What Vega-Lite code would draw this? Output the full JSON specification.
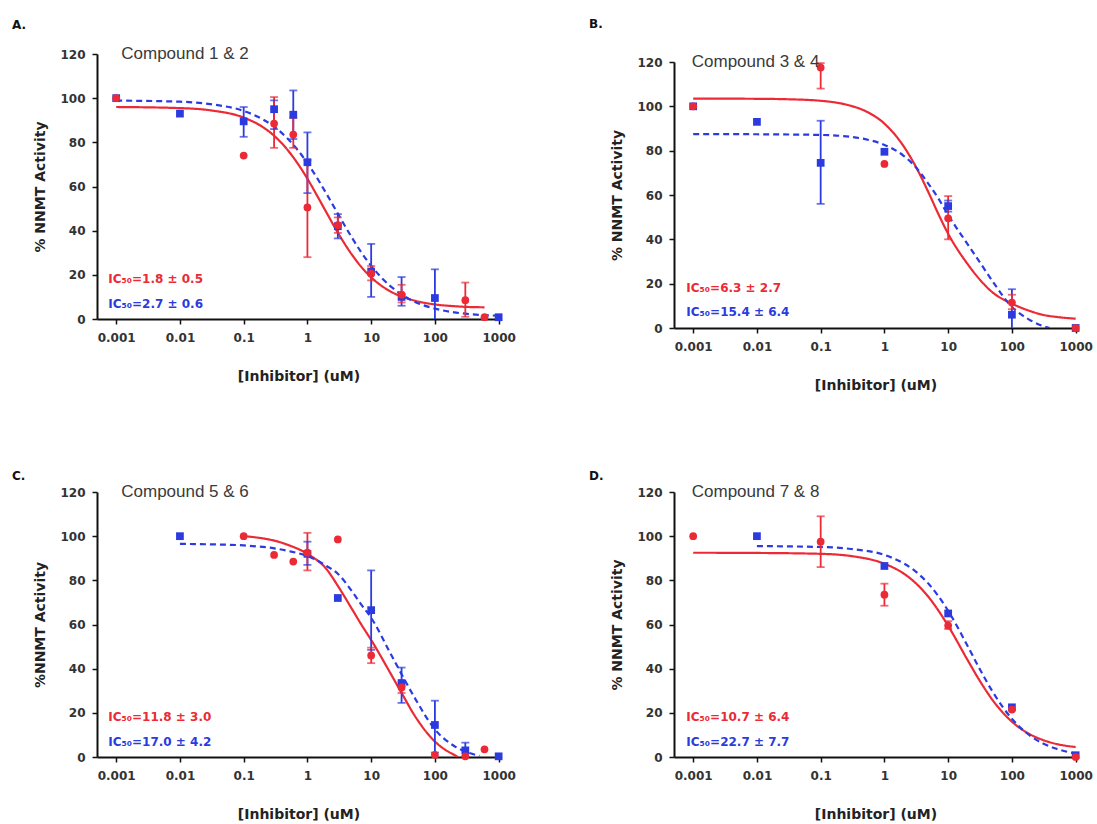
{
  "$schema": "https://vega.github.io/schema/vega-lite/v6.json",
  "background": "white",
  "padding": {"left": 12, "top": 18, "right": 2, "bottom": 1},
  "datasets": {
    "points": [
      {"panel":"A","series":"s2","x":0.001,"y":100},
      {"panel":"A","series":"s2","x":0.01,"y":93},
      {"panel":"A","series":"s2","x":0.1,"y":89.5,"lo":82.5,"hi":96},
      {"panel":"A","series":"s2","x":0.3,"y":95,"lo":86,"hi":99},
      {"panel":"A","series":"s2","x":0.6,"y":92.5,"lo":81.5,"hi":103.5},
      {"panel":"A","series":"s2","x":1,"y":71,"lo":57,"hi":84.5},
      {"panel":"A","series":"s2","x":3,"y":42,"lo":36.5,"hi":47.5},
      {"panel":"A","series":"s2","x":10,"y":21.5,"lo":10,"hi":34},
      {"panel":"A","series":"s2","x":30,"y":10,"lo":6,"hi":19},
      {"panel":"A","series":"s2","x":100,"y":9.5,"lo":-3,"hi":22.5},
      {"panel":"A","series":"s2","x":1000,"y":0.8},
      {"panel":"A","series":"s1","x":0.001,"y":100},
      {"panel":"A","series":"s1","x":0.1,"y":74},
      {"panel":"A","series":"s1","x":0.3,"y":88.5,"lo":77.5,"hi":100.5},
      {"panel":"A","series":"s1","x":0.6,"y":83.5,"lo":77.5,"hi":91},
      {"panel":"A","series":"s1","x":1,"y":50.5,"lo":28,"hi":72},
      {"panel":"A","series":"s1","x":3,"y":42.5,"lo":39,"hi":46},
      {"panel":"A","series":"s1","x":10,"y":20.5,"lo":17.5,"hi":24},
      {"panel":"A","series":"s1","x":30,"y":11,"lo":7.5,"hi":15.5},
      {"panel":"A","series":"s1","x":300,"y":8.5,"lo":1,"hi":16.5},
      {"panel":"A","series":"s1","x":600,"y":0.8},

      {"panel":"B","series":"s2","x":0.001,"y":100},
      {"panel":"B","series":"s2","x":0.01,"y":93},
      {"panel":"B","series":"s2","x":0.1,"y":74.5,"lo":56,"hi":93.5},
      {"panel":"B","series":"s2","x":1,"y":79.5},
      {"panel":"B","series":"s2","x":10,"y":55,"lo":52.5,"hi":57.5},
      {"panel":"B","series":"s2","x":100,"y":6,"lo":-5,"hi":17.5},
      {"panel":"B","series":"s2","x":1000,"y":0},
      {"panel":"B","series":"s1","x":0.001,"y":100},
      {"panel":"B","series":"s1","x":0.1,"y":117.5,"lo":108,"hi":119.5},
      {"panel":"B","series":"s1","x":1,"y":74},
      {"panel":"B","series":"s1","x":10,"y":49.5,"lo":40,"hi":59.5},
      {"panel":"B","series":"s1","x":100,"y":11.5,"lo":8.5,"hi":15},
      {"panel":"B","series":"s1","x":1000,"y":0},

      {"panel":"C","series":"s2","x":0.01,"y":100},
      {"panel":"C","series":"s2","x":1,"y":92,"lo":87,"hi":97.5},
      {"panel":"C","series":"s2","x":3,"y":72},
      {"panel":"C","series":"s2","x":10,"y":66.5,"lo":48.5,"hi":84.5},
      {"panel":"C","series":"s2","x":30,"y":33.5,"lo":24.5,"hi":40.5},
      {"panel":"C","series":"s2","x":100,"y":14.5,"lo":2,"hi":25.5},
      {"panel":"C","series":"s2","x":300,"y":3,"lo":0,"hi":6.5},
      {"panel":"C","series":"s2","x":1000,"y":0.3},
      {"panel":"C","series":"s1","x":0.1,"y":100},
      {"panel":"C","series":"s1","x":0.3,"y":91.5},
      {"panel":"C","series":"s1","x":0.6,"y":88.5},
      {"panel":"C","series":"s1","x":1,"y":92.5,"lo":84.5,"hi":101.5},
      {"panel":"C","series":"s1","x":3,"y":98.5},
      {"panel":"C","series":"s1","x":10,"y":46,"lo":42.5,"hi":49.5},
      {"panel":"C","series":"s1","x":30,"y":31.5,"lo":29,"hi":34},
      {"panel":"C","series":"s1","x":100,"y":1},
      {"panel":"C","series":"s1","x":300,"y":0.3},
      {"panel":"C","series":"s1","x":600,"y":3.5},

      {"panel":"D","series":"s2","x":0.01,"y":100},
      {"panel":"D","series":"s2","x":1,"y":86.5},
      {"panel":"D","series":"s2","x":10,"y":65},
      {"panel":"D","series":"s2","x":100,"y":22.5},
      {"panel":"D","series":"s2","x":1000,"y":0.8},
      {"panel":"D","series":"s1","x":0.001,"y":100},
      {"panel":"D","series":"s1","x":0.1,"y":97.5,"lo":86,"hi":109},
      {"panel":"D","series":"s1","x":1,"y":73.5,"lo":68.5,"hi":78.5},
      {"panel":"D","series":"s1","x":10,"y":59.5,"lo":58,"hi":61.5},
      {"panel":"D","series":"s1","x":100,"y":21.5},
      {"panel":"D","series":"s1","x":1000,"y":0}
    ],
    "curves": [
      {"panel":"A","series":"s1","x":0.001,"y":96.0},{"panel":"A","series":"s1","x":0.01,"y":95.5},{"panel":"A","series":"s1","x":0.03,"y":94.5},{"panel":"A","series":"s1","x":0.1,"y":91.2},{"panel":"A","series":"s1","x":0.2,"y":86.9},{"panel":"A","series":"s1","x":0.3,"y":83.0},{"panel":"A","series":"s1","x":0.5,"y":76.2},{"panel":"A","series":"s1","x":0.7,"y":70.5},{"panel":"A","series":"s1","x":1,"y":63.5},{"panel":"A","series":"s1","x":1.5,"y":54.6},{"panel":"A","series":"s1","x":2,"y":48.1},{"panel":"A","series":"s1","x":3,"y":39.1},{"panel":"A","series":"s1","x":5,"y":29.1},{"panel":"A","series":"s1","x":7,"y":23.6},{"panel":"A","series":"s1","x":10,"y":18.9},{"panel":"A","series":"s1","x":20,"y":12.5},{"panel":"A","series":"s1","x":30,"y":10.2},{"panel":"A","series":"s1","x":50,"y":8.2},{"panel":"A","series":"s1","x":100,"y":6.6},{"panel":"A","series":"s1","x":200,"y":5.8},{"panel":"A","series":"s1","x":300,"y":5.5},{"panel":"A","series":"s1","x":600,"y":5.3},
      {"panel":"A","series":"s2","x":0.001,"y":98.9},{"panel":"A","series":"s2","x":0.01,"y":98.4},{"panel":"A","series":"s2","x":0.03,"y":97.3},{"panel":"A","series":"s2","x":0.1,"y":94.2},{"panel":"A","series":"s2","x":0.2,"y":90.4},{"panel":"A","series":"s2","x":0.3,"y":87.1},{"panel":"A","series":"s2","x":0.5,"y":81.4},{"panel":"A","series":"s2","x":0.7,"y":76.6},{"panel":"A","series":"s2","x":1,"y":70.6},{"panel":"A","series":"s2","x":1.5,"y":62.7},{"panel":"A","series":"s2","x":2,"y":56.6},{"panel":"A","series":"s2","x":3,"y":47.7},{"panel":"A","series":"s2","x":5,"y":36.8},{"panel":"A","series":"s2","x":7,"y":30.2},{"panel":"A","series":"s2","x":10,"y":24.1},{"panel":"A","series":"s2","x":20,"y":14.9},{"panel":"A","series":"s2","x":30,"y":11.1},{"panel":"A","series":"s2","x":50,"y":7.6},{"panel":"A","series":"s2","x":100,"y":4.7},{"panel":"A","series":"s2","x":200,"y":3.0},{"panel":"A","series":"s2","x":300,"y":2.4},{"panel":"A","series":"s2","x":600,"y":1.75},{"panel":"A","series":"s2","x":1000,"y":1.5},

      {"panel":"B","series":"s1","x":0.001,"y":103.5},{"panel":"B","series":"s1","x":0.01,"y":103.4},{"panel":"B","series":"s1","x":0.03,"y":103.2},{"panel":"B","series":"s1","x":0.1,"y":102.5},{"panel":"B","series":"s1","x":0.2,"y":101.4},{"panel":"B","series":"s1","x":0.3,"y":100.2},{"panel":"B","series":"s1","x":0.5,"y":97.9},{"panel":"B","series":"s1","x":1,"y":92.2},{"panel":"B","series":"s1","x":2,"y":82.0},{"panel":"B","series":"s1","x":3,"y":73.6},{"panel":"B","series":"s1","x":5,"y":60.7},{"panel":"B","series":"s1","x":7,"y":51.5},{"panel":"B","series":"s1","x":10,"y":42.5},{"panel":"B","series":"s1","x":20,"y":29},{"panel":"B","series":"s1","x":30,"y":22.5},{"panel":"B","series":"s1","x":50,"y":16},{"panel":"B","series":"s1","x":100,"y":11},{"panel":"B","series":"s1","x":200,"y":7.5},{"panel":"B","series":"s1","x":300,"y":6},{"panel":"B","series":"s1","x":500,"y":5},{"panel":"B","series":"s1","x":1000,"y":4.2},
      {"panel":"B","series":"s2","x":0.001,"y":87.5},{"panel":"B","series":"s2","x":0.01,"y":87.4},{"panel":"B","series":"s2","x":0.1,"y":87.1},{"panel":"B","series":"s2","x":0.3,"y":86.2},{"panel":"B","series":"s2","x":0.5,"y":85.2},{"panel":"B","series":"s2","x":1,"y":82.6},{"panel":"B","series":"s2","x":2,"y":77.7},{"panel":"B","series":"s2","x":3,"y":73.0},{"panel":"B","series":"s2","x":5,"y":64.7},{"panel":"B","series":"s2","x":7,"y":58.5},{"panel":"B","series":"s2","x":10,"y":51},{"panel":"B","series":"s2","x":20,"y":38},{"panel":"B","series":"s2","x":30,"y":30.5},{"panel":"B","series":"s2","x":50,"y":21},{"panel":"B","series":"s2","x":100,"y":9.5},{"panel":"B","series":"s2","x":150,"y":5.5},{"panel":"B","series":"s2","x":200,"y":3.3},{"panel":"B","series":"s2","x":300,"y":1},{"panel":"B","series":"s2","x":390,"y":0},

      {"panel":"C","series":"s1","x":0.1,"y":100},{"panel":"C","series":"s1","x":0.2,"y":99},{"panel":"C","series":"s1","x":0.3,"y":98},{"panel":"C","series":"s1","x":0.5,"y":96},{"panel":"C","series":"s1","x":1,"y":92},{"panel":"C","series":"s1","x":2,"y":85},{"panel":"C","series":"s1","x":3,"y":77.5},{"panel":"C","series":"s1","x":5,"y":67},{"panel":"C","series":"s1","x":7,"y":60},{"panel":"C","series":"s1","x":10,"y":53},{"panel":"C","series":"s1","x":20,"y":38},{"panel":"C","series":"s1","x":30,"y":29},{"panel":"C","series":"s1","x":50,"y":18},{"panel":"C","series":"s1","x":100,"y":7},{"panel":"C","series":"s1","x":150,"y":3},{"panel":"C","series":"s1","x":200,"y":1},{"panel":"C","series":"s1","x":230,"y":0},
      {"panel":"C","series":"s2","x":0.01,"y":96.5},{"panel":"C","series":"s2","x":0.03,"y":96.3},{"panel":"C","series":"s2","x":0.1,"y":95.8},{"panel":"C","series":"s2","x":0.3,"y":94.5},{"panel":"C","series":"s2","x":0.5,"y":93.3},{"panel":"C","series":"s2","x":1,"y":91},{"panel":"C","series":"s2","x":2,"y":86.5},{"panel":"C","series":"s2","x":3,"y":83},{"panel":"C","series":"s2","x":5,"y":75},{"panel":"C","series":"s2","x":7,"y":69},{"panel":"C","series":"s2","x":10,"y":63},{"panel":"C","series":"s2","x":20,"y":47},{"panel":"C","series":"s2","x":30,"y":37.5},{"panel":"C","series":"s2","x":50,"y":26},{"panel":"C","series":"s2","x":100,"y":12.5},{"panel":"C","series":"s2","x":200,"y":5},{"panel":"C","series":"s2","x":300,"y":2.5},{"panel":"C","series":"s2","x":500,"y":0.5},

      {"panel":"D","series":"s1","x":0.001,"y":92.5},{"panel":"D","series":"s1","x":0.01,"y":92.4},{"panel":"D","series":"s1","x":0.1,"y":92.0},{"panel":"D","series":"s1","x":0.3,"y":91.0},{"panel":"D","series":"s1","x":1,"y":87.5},{"panel":"D","series":"s1","x":2,"y":83.1},{"panel":"D","series":"s1","x":3,"y":79.1},{"panel":"D","series":"s1","x":5,"y":72.2},{"panel":"D","series":"s1","x":7,"y":66.4},{"panel":"D","series":"s1","x":10,"y":59.4},{"panel":"D","series":"s1","x":20,"y":44.1},{"panel":"D","series":"s1","x":30,"y":35.4},{"panel":"D","series":"s1","x":50,"y":25.7},{"panel":"D","series":"s1","x":100,"y":16},{"panel":"D","series":"s1","x":200,"y":10},{"panel":"D","series":"s1","x":300,"y":7.8},{"panel":"D","series":"s1","x":500,"y":5.9},{"panel":"D","series":"s1","x":1000,"y":4.5},
      {"panel":"D","series":"s2","x":0.01,"y":95.5},{"panel":"D","series":"s2","x":0.1,"y":95.1},{"panel":"D","series":"s2","x":0.3,"y":94.2},{"panel":"D","series":"s2","x":1,"y":91.5},{"panel":"D","series":"s2","x":2,"y":87.7},{"panel":"D","series":"s2","x":3,"y":84.3},{"panel":"D","series":"s2","x":5,"y":78.2},{"panel":"D","series":"s2","x":7,"y":72.9},{"panel":"D","series":"s2","x":10,"y":66.2},{"panel":"D","series":"s2","x":20,"y":50.5},{"panel":"D","series":"s2","x":30,"y":40.8},{"panel":"D","series":"s2","x":50,"y":29.5},{"panel":"D","series":"s2","x":100,"y":17.3},{"panel":"D","series":"s2","x":200,"y":9.3},{"panel":"D","series":"s2","x":300,"y":6.3},{"panel":"D","series":"s2","x":500,"y":3.7},{"panel":"D","series":"s2","x":1000,"y":1.6}
    ],
    "labels": [
      {"panel":"A","kind":"title","series":"none","text":"Compound 1 & 2","x":0.0012,"y":120},
      {"panel":"A","kind":"ic","series":"s1","text":"IC₅₀=1.8 ± 0.5","x":0.00075,"y":18},
      {"panel":"A","kind":"ic","series":"s2","text":"IC₅₀=2.7 ± 0.6","x":0.00075,"y":7},
      {"panel":"B","kind":"title","series":"none","text":"Compound 3 & 4","x":0.00095,"y":120},
      {"panel":"B","kind":"ic","series":"s1","text":"IC₅₀=6.3 ± 2.7","x":0.00078,"y":18},
      {"panel":"B","kind":"ic","series":"s2","text":"IC₅₀=15.4 ± 6.4","x":0.00078,"y":7},
      {"panel":"C","kind":"title","series":"none","text":"Compound 5 & 6","x":0.0012,"y":120},
      {"panel":"C","kind":"ic","series":"s1","text":"IC₅₀=11.8 ± 3.0","x":0.00075,"y":18},
      {"panel":"C","kind":"ic","series":"s2","text":"IC₅₀=17.0 ± 4.2","x":0.00075,"y":7},
      {"panel":"D","kind":"title","series":"none","text":"Compound 7 & 8","x":0.00095,"y":120},
      {"panel":"D","kind":"ic","series":"s1","text":"IC₅₀=10.7 ± 6.4","x":0.00078,"y":18},
      {"panel":"D","kind":"ic","series":"s2","text":"IC₅₀=22.7 ± 7.7","x":0.00078,"y":7}
    ]
  },
  "columns": 2,
  "spacing": {"row": 78, "column": 73},
  "concat": [
    {
      "title": {"text": "A.", "offset": 13},
      "width": 403, "height": 265,
      "encoding": {"x": {"field": "x", "type": "quantitative", "title": "[Inhibitor] (uM)", "scale": {"type": "log", "domain": [0.0005, 1050], "nice": false}, "axis": {"values": [0.001, 0.01, 0.1, 1, 10, 100, 1000], "format": "~g", "labelPadding": 8, "titlePadding": 26, "labelFlush": false}}},
      "layer": [
        {"data": {"name": "curves"}, "transform": [{"filter": "datum.panel === 'A'"}], "mark": {"type": "line", "interpolate": "monotone", "strokeWidth": 2.2, "clip": true},
         "encoding": {"y": {"field": "y", "type": "quantitative", "title": "% NNMT Activity", "scale": {"domain": [0, 120], "nice": false}, "axis": {"values": [0, 20, 40, 60, 80, 100, 120], "labelPadding": 7, "titlePadding": 12}},
           "color": {"field": "series", "type": "nominal", "scale": {"domain": ["s1", "s2"], "range": ["#ec2a35", "#2b3be0"]}, "legend": null},
           "strokeDash": {"field": "series", "type": "nominal", "scale": {"domain": ["s1", "s2"], "range": [[1, 0], [6, 4]]}, "legend": null}}},
        {"data": {"name": "points"}, "transform": [{"filter": "datum.panel === 'A' && isValid(datum.lo)"}], "mark": {"type": "rule", "strokeWidth": 1.8, "clip": true},
         "encoding": {"y": {"field": "lo", "type": "quantitative", "title": "% NNMT Activity"}, "y2": {"field": "hi"}, "color": {"field": "series", "type": "nominal", "legend": null}}},
        {"data": {"name": "points"}, "transform": [{"filter": "datum.panel === 'A' && isValid(datum.lo)"}], "mark": {"type": "tick", "orient": "horizontal", "size": 8, "thickness": 1.8, "clip": true},
         "encoding": {"y": {"field": "lo", "type": "quantitative", "title": "% NNMT Activity"}, "color": {"field": "series", "type": "nominal", "legend": null}}},
        {"data": {"name": "points"}, "transform": [{"filter": "datum.panel === 'A' && isValid(datum.hi)"}], "mark": {"type": "tick", "orient": "horizontal", "size": 8, "thickness": 1.8, "clip": true},
         "encoding": {"y": {"field": "hi", "type": "quantitative", "title": "% NNMT Activity"}, "color": {"field": "series", "type": "nominal", "legend": null}}},
        {"data": {"name": "points"}, "transform": [{"filter": "datum.panel === 'A'"}], "mark": {"type": "point", "filled": true, "opacity": 1, "size": 60},
         "encoding": {"y": {"field": "y", "type": "quantitative", "title": "% NNMT Activity"}, "color": {"field": "series", "type": "nominal", "legend": null}, "shape": {"field": "series", "type": "nominal", "scale": {"domain": ["s1", "s2"], "range": ["circle", "square"]}, "legend": null}}},
        {"data": {"name": "labels"}, "transform": [{"filter": "datum.panel === 'A' && datum.kind === 'title'"}], "mark": {"type": "text", "align": "left", "baseline": "middle", "fontSize": 17, "font": "Liberation Sans", "color": "#3a3a3a"},
         "encoding": {"y": {"field": "y", "type": "quantitative", "title": "% NNMT Activity"}, "text": {"field": "text"}}},
        {"data": {"name": "labels"}, "transform": [{"filter": "datum.panel === 'A' && datum.kind === 'ic'"}], "mark": {"type": "text", "align": "left", "baseline": "middle", "fontSize": 12, "fontWeight": "bold", "font": "DejaVu Sans"},
         "encoding": {"y": {"field": "y", "type": "quantitative", "title": "% NNMT Activity"}, "text": {"field": "text"}, "color": {"field": "series", "type": "nominal", "legend": null}}}
      ]
    },
    {
      "title": {"text": "B.", "offset": 22},
      "width": 403, "height": 274,
      "encoding": {"x": {"field": "x", "type": "quantitative", "title": "[Inhibitor] (uM)", "scale": {"type": "log", "domain": [0.0005, 1050], "nice": false}, "axis": {"values": [0.001, 0.01, 0.1, 1, 10, 100, 1000], "format": "~g", "labelPadding": 8, "titlePadding": 26, "labelFlush": false}}},
      "layer": [
        {"data": {"name": "curves"}, "transform": [{"filter": "datum.panel === 'B'"}], "mark": {"type": "line", "interpolate": "monotone", "strokeWidth": 2.2, "clip": true},
         "encoding": {"y": {"field": "y", "type": "quantitative", "title": "% NNMT Activity", "scale": {"domain": [0, 120], "nice": false, "range": [274, 8]}, "axis": {"values": [0, 20, 40, 60, 80, 100, 120], "labelPadding": 7, "titlePadding": 12}},
           "color": {"field": "series", "type": "nominal", "scale": {"domain": ["s1", "s2"], "range": ["#ec2a35", "#2b3be0"]}, "legend": null},
           "strokeDash": {"field": "series", "type": "nominal", "scale": {"domain": ["s1", "s2"], "range": [[1, 0], [6, 4]]}, "legend": null}}},
        {"data": {"name": "points"}, "transform": [{"filter": "datum.panel === 'B' && isValid(datum.lo)"}], "mark": {"type": "rule", "strokeWidth": 1.8, "clip": true},
         "encoding": {"y": {"field": "lo", "type": "quantitative", "title": "% NNMT Activity"}, "y2": {"field": "hi"}, "color": {"field": "series", "type": "nominal", "legend": null}}},
        {"data": {"name": "points"}, "transform": [{"filter": "datum.panel === 'B' && isValid(datum.lo)"}], "mark": {"type": "tick", "orient": "horizontal", "size": 8, "thickness": 1.8, "clip": true},
         "encoding": {"y": {"field": "lo", "type": "quantitative", "title": "% NNMT Activity"}, "color": {"field": "series", "type": "nominal", "legend": null}}},
        {"data": {"name": "points"}, "transform": [{"filter": "datum.panel === 'B' && isValid(datum.hi)"}], "mark": {"type": "tick", "orient": "horizontal", "size": 8, "thickness": 1.8, "clip": true},
         "encoding": {"y": {"field": "hi", "type": "quantitative", "title": "% NNMT Activity"}, "color": {"field": "series", "type": "nominal", "legend": null}}},
        {"data": {"name": "points"}, "transform": [{"filter": "datum.panel === 'B'"}], "mark": {"type": "point", "filled": true, "opacity": 1, "size": 60},
         "encoding": {"y": {"field": "y", "type": "quantitative", "title": "% NNMT Activity"}, "color": {"field": "series", "type": "nominal", "legend": null}, "shape": {"field": "series", "type": "nominal", "scale": {"domain": ["s1", "s2"], "range": ["circle", "square"]}, "legend": null}}},
        {"data": {"name": "labels"}, "transform": [{"filter": "datum.panel === 'B' && datum.kind === 'title'"}], "mark": {"type": "text", "align": "left", "baseline": "middle", "fontSize": 17, "font": "Liberation Sans", "color": "#3a3a3a"},
         "encoding": {"y": {"field": "y", "type": "quantitative", "title": "% NNMT Activity"}, "text": {"field": "text"}}},
        {"data": {"name": "labels"}, "transform": [{"filter": "datum.panel === 'B' && datum.kind === 'ic'"}], "mark": {"type": "text", "align": "left", "baseline": "middle", "fontSize": 12, "fontWeight": "bold", "font": "DejaVu Sans"},
         "encoding": {"y": {"field": "y", "type": "quantitative", "title": "% NNMT Activity"}, "text": {"field": "text"}, "color": {"field": "series", "type": "nominal", "legend": null}}}
      ]
    },
    {
      "title": {"text": "C.", "offset": 0},
      "width": 403, "height": 265,
      "encoding": {"x": {"field": "x", "type": "quantitative", "title": "[Inhibitor] (uM)", "scale": {"type": "log", "domain": [0.0005, 1050], "nice": false}, "axis": {"values": [0.001, 0.01, 0.1, 1, 10, 100, 1000], "format": "~g", "labelPadding": 8, "titlePadding": 26, "labelFlush": false}}},
      "layer": [
        {"data": {"name": "curves"}, "transform": [{"filter": "datum.panel === 'C'"}], "mark": {"type": "line", "interpolate": "monotone", "strokeWidth": 2.2, "clip": true},
         "encoding": {"y": {"field": "y", "type": "quantitative", "title": "%NNMT Activity", "scale": {"domain": [0, 120], "nice": false}, "axis": {"values": [0, 20, 40, 60, 80, 100, 120], "labelPadding": 7, "titlePadding": 12}},
           "color": {"field": "series", "type": "nominal", "scale": {"domain": ["s1", "s2"], "range": ["#ec2a35", "#2b3be0"]}, "legend": null},
           "strokeDash": {"field": "series", "type": "nominal", "scale": {"domain": ["s1", "s2"], "range": [[1, 0], [6, 4]]}, "legend": null}}},
        {"data": {"name": "points"}, "transform": [{"filter": "datum.panel === 'C' && isValid(datum.lo)"}], "mark": {"type": "rule", "strokeWidth": 1.8, "clip": true},
         "encoding": {"y": {"field": "lo", "type": "quantitative", "title": "%NNMT Activity"}, "y2": {"field": "hi"}, "color": {"field": "series", "type": "nominal", "legend": null}}},
        {"data": {"name": "points"}, "transform": [{"filter": "datum.panel === 'C' && isValid(datum.lo)"}], "mark": {"type": "tick", "orient": "horizontal", "size": 8, "thickness": 1.8, "clip": true},
         "encoding": {"y": {"field": "lo", "type": "quantitative", "title": "%NNMT Activity"}, "color": {"field": "series", "type": "nominal", "legend": null}}},
        {"data": {"name": "points"}, "transform": [{"filter": "datum.panel === 'C' && isValid(datum.hi)"}], "mark": {"type": "tick", "orient": "horizontal", "size": 8, "thickness": 1.8, "clip": true},
         "encoding": {"y": {"field": "hi", "type": "quantitative", "title": "%NNMT Activity"}, "color": {"field": "series", "type": "nominal", "legend": null}}},
        {"data": {"name": "points"}, "transform": [{"filter": "datum.panel === 'C'"}], "mark": {"type": "point", "filled": true, "opacity": 1, "size": 60},
         "encoding": {"y": {"field": "y", "type": "quantitative", "title": "%NNMT Activity"}, "color": {"field": "series", "type": "nominal", "legend": null}, "shape": {"field": "series", "type": "nominal", "scale": {"domain": ["s1", "s2"], "range": ["circle", "square"]}, "legend": null}}},
        {"data": {"name": "labels"}, "transform": [{"filter": "datum.panel === 'C' && datum.kind === 'title'"}], "mark": {"type": "text", "align": "left", "baseline": "middle", "fontSize": 17, "font": "Liberation Sans", "color": "#3a3a3a"},
         "encoding": {"y": {"field": "y", "type": "quantitative", "title": "%NNMT Activity"}, "text": {"field": "text"}}},
        {"data": {"name": "labels"}, "transform": [{"filter": "datum.panel === 'C' && datum.kind === 'ic'"}], "mark": {"type": "text", "align": "left", "baseline": "middle", "fontSize": 12, "fontWeight": "bold", "font": "DejaVu Sans"},
         "encoding": {"y": {"field": "y", "type": "quantitative", "title": "%NNMT Activity"}, "text": {"field": "text"}, "color": {"field": "series", "type": "nominal", "legend": null}}}
      ]
    },
    {
      "title": {"text": "D.", "offset": 0},
      "width": 403, "height": 265,
      "encoding": {"x": {"field": "x", "type": "quantitative", "title": "[Inhibitor] (uM)", "scale": {"type": "log", "domain": [0.0005, 1050], "nice": false}, "axis": {"values": [0.001, 0.01, 0.1, 1, 10, 100, 1000], "format": "~g", "labelPadding": 8, "titlePadding": 26, "labelFlush": false}}},
      "layer": [
        {"data": {"name": "curves"}, "transform": [{"filter": "datum.panel === 'D'"}], "mark": {"type": "line", "interpolate": "monotone", "strokeWidth": 2.2, "clip": true},
         "encoding": {"y": {"field": "y", "type": "quantitative", "title": "% NNMT Activity", "scale": {"domain": [0, 120], "nice": false}, "axis": {"values": [0, 20, 40, 60, 80, 100, 120], "labelPadding": 7, "titlePadding": 12}},
           "color": {"field": "series", "type": "nominal", "scale": {"domain": ["s1", "s2"], "range": ["#ec2a35", "#2b3be0"]}, "legend": null},
           "strokeDash": {"field": "series", "type": "nominal", "scale": {"domain": ["s1", "s2"], "range": [[1, 0], [6, 4]]}, "legend": null}}},
        {"data": {"name": "points"}, "transform": [{"filter": "datum.panel === 'D' && isValid(datum.lo)"}], "mark": {"type": "rule", "strokeWidth": 1.8, "clip": true},
         "encoding": {"y": {"field": "lo", "type": "quantitative", "title": "% NNMT Activity"}, "y2": {"field": "hi"}, "color": {"field": "series", "type": "nominal", "legend": null}}},
        {"data": {"name": "points"}, "transform": [{"filter": "datum.panel === 'D' && isValid(datum.lo)"}], "mark": {"type": "tick", "orient": "horizontal", "size": 8, "thickness": 1.8, "clip": true},
         "encoding": {"y": {"field": "lo", "type": "quantitative", "title": "% NNMT Activity"}, "color": {"field": "series", "type": "nominal", "legend": null}}},
        {"data": {"name": "points"}, "transform": [{"filter": "datum.panel === 'D' && isValid(datum.hi)"}], "mark": {"type": "tick", "orient": "horizontal", "size": 8, "thickness": 1.8, "clip": true},
         "encoding": {"y": {"field": "hi", "type": "quantitative", "title": "% NNMT Activity"}, "color": {"field": "series", "type": "nominal", "legend": null}}},
        {"data": {"name": "points"}, "transform": [{"filter": "datum.panel === 'D'"}], "mark": {"type": "point", "filled": true, "opacity": 1, "size": 60},
         "encoding": {"y": {"field": "y", "type": "quantitative", "title": "% NNMT Activity"}, "color": {"field": "series", "type": "nominal", "legend": null}, "shape": {"field": "series", "type": "nominal", "scale": {"domain": ["s1", "s2"], "range": ["circle", "square"]}, "legend": null}}},
        {"data": {"name": "labels"}, "transform": [{"filter": "datum.panel === 'D' && datum.kind === 'title'"}], "mark": {"type": "text", "align": "left", "baseline": "middle", "fontSize": 17, "font": "Liberation Sans", "color": "#3a3a3a"},
         "encoding": {"y": {"field": "y", "type": "quantitative", "title": "% NNMT Activity"}, "text": {"field": "text"}}},
        {"data": {"name": "labels"}, "transform": [{"filter": "datum.panel === 'D' && datum.kind === 'ic'"}], "mark": {"type": "text", "align": "left", "baseline": "middle", "fontSize": 12, "fontWeight": "bold", "font": "DejaVu Sans"},
         "encoding": {"y": {"field": "y", "type": "quantitative", "title": "% NNMT Activity"}, "text": {"field": "text"}, "color": {"field": "series", "type": "nominal", "legend": null}}}
      ]
    }
  ],
  "config": {
    "view": {"stroke": null},
    "title": {"anchor": "start", "frame": "group", "dx": -85, "fontSize": 12, "fontWeight": "bold", "font": "DejaVu Sans", "color": "#111"},
    "axis": {"grid": false, "domainColor": "#111", "domainWidth": 2, "tickColor": "#111", "tickWidth": 1.5, "tickSize": 5,
      "labelFont": "DejaVu Sans", "labelFontWeight": "bold", "labelFontSize": 12, "labelColor": "#333",
      "titleFont": "DejaVu Sans", "titleFontWeight": "bold", "titleFontSize": 14, "titleColor": "#222"}
  }
}
